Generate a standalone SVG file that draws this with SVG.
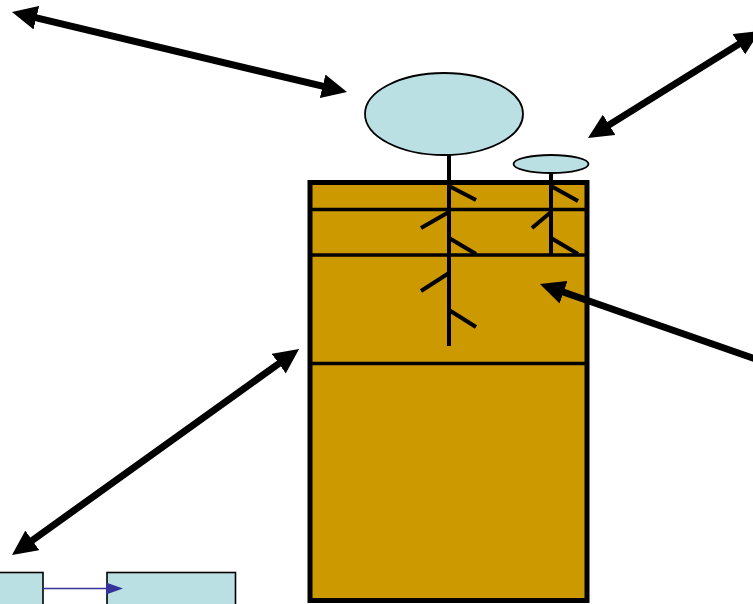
<svg xmlns="http://www.w3.org/2000/svg" width="753" height="604" viewBox="0 0 753 604">
  <style>
    .leaf { fill: #BBE0E3; stroke: #000; stroke-width: 1.8; }
    .soil { fill: #CC9900; stroke: #000; stroke-width: 5; }
    .layer { stroke: #000; stroke-width: 3.3; fill: none; }
    .stem { stroke: #000; stroke-width: 4; fill: none; }
    .big { stroke: #000; stroke-width: 7; fill: none; }
    .box { fill: #BBE0E3; stroke: #000; stroke-width: 1.6; }
    .link { stroke: #333399; stroke-width: 1.6; fill: none; }
  </style>
  <defs>
    <marker id="head" markerUnits="userSpaceOnUse" viewBox="0 -12 25 24" markerWidth="25" markerHeight="24" refX="2" refY="0" orient="auto-start-reverse">
      <path d="M0,-12 L25,0 L0,12 z" fill="#000"/>
    </marker>
    <marker id="blueHead" markerUnits="userSpaceOnUse" viewBox="0 -6 17 12" markerWidth="17" markerHeight="12" refX="1" refY="0" orient="auto">
      <path d="M0,-6 L17,0 L0,6 z" fill="#333399"/>
    </marker>
  </defs>

  <!-- soil column with horizon lines -->
  <g id="soil">
    <rect class="soil" x="310" y="182.5" width="277" height="418"/>
    <line class="layer" x1="312" y1="209.5" x2="585" y2="209.5"/>
    <line class="layer" x1="312" y1="255" x2="585" y2="255"/>
    <line class="layer" x1="312" y1="363.5" x2="585" y2="363.5"/>
  </g>

  <!-- tall plant -->
  <g id="tall-plant">
    <line class="stem" x1="449" y1="154" x2="449" y2="346"/>
    <line class="stem" x1="449" y1="186" x2="476" y2="200"/>
    <line class="stem" x1="449" y1="212" x2="421" y2="228"/>
    <line class="stem" x1="449" y1="238" x2="476" y2="254"/>
    <line class="stem" x1="449" y1="273" x2="421" y2="291"/>
    <line class="stem" x1="449" y1="310" x2="476" y2="327"/>
    <ellipse class="leaf" cx="444" cy="114" rx="79" ry="41"/>
  </g>

  <!-- short plant -->
  <g id="short-plant">
    <line class="stem" x1="551" y1="172" x2="551" y2="255"/>
    <line class="stem" x1="551" y1="186" x2="578" y2="201"/>
    <line class="stem" x1="551" y1="212" x2="532" y2="228"/>
    <line class="stem" x1="551" y1="238" x2="578" y2="254"/>
    <ellipse class="leaf" cx="551" cy="164" rx="37.5" ry="9"/>
  </g>

  <!-- boxes at bottom left -->
  <g id="box-left">
    <rect class="box" x="-4" y="572.5" width="47" height="36"/>
  </g>
  <g id="box-right">
    <rect class="box" x="107" y="572.5" width="128.5" height="36"/>
  </g>

  <!-- connectors -->
  <g id="connectors">
    <line class="big" x1="34.4" y1="17.3" x2="324.6" y2="86.7" marker-start="url(#head)" marker-end="url(#head)"/>
    <line class="big" x1="607.5" y1="125.9" x2="740.5" y2="43.1" marker-start="url(#head)" marker-end="url(#head)"/>
    <line class="big" x1="770" y1="364" x2="561.7" y2="291.5" marker-end="url(#head)"/>
    <line class="big" x1="30.7" y1="541.5" x2="280.4" y2="362.5" marker-start="url(#head)" marker-end="url(#head)"/>
    <line class="link" x1="43" y1="588.5" x2="107" y2="588.5" marker-end="url(#blueHead)"/>
  </g>
</svg>
